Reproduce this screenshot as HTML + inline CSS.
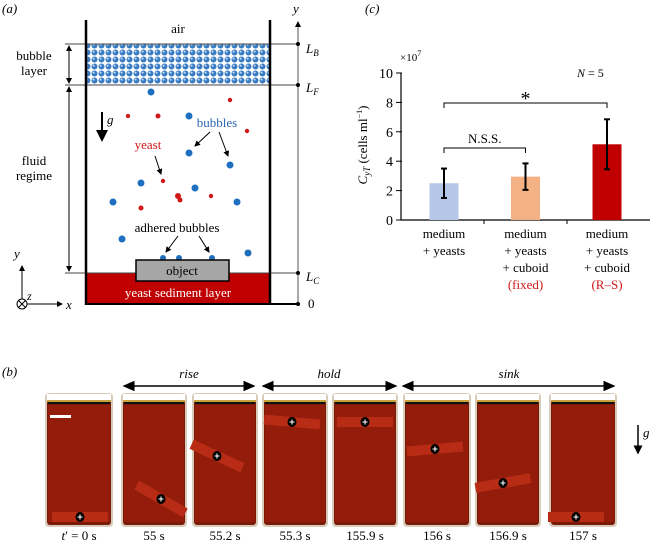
<!DOCTYPE html>
<html><head><meta charset="utf-8"><style>
body{margin:0;background:#fff;overflow:hidden}
svg{display:block;font-family:"Liberation Serif",serif}
</style></head><body>
<svg width="652" height="543" viewBox="0 0 652 543">
<defs>
<pattern id="bub" width="7" height="7" patternUnits="userSpaceOnUse">
<rect width="7" height="7" fill="#fff"/><circle cx="3.5" cy="3.5" r="3" fill="#3a7cc4"/><circle cx="2.6" cy="2.6" r="1" fill="#cfe0f4"/>
</pattern>
<marker id="ah" markerWidth="8" markerHeight="8" refX="7" refY="4" orient="auto-start-reverse"><path d="M0,0.5 L8,4 L0,7.5 z" fill="#000"/></marker>
<marker id="ah2" markerWidth="6" markerHeight="6" refX="5" refY="3" orient="auto-start-reverse"><path d="M0,0 L6,3 L0,6 z" fill="#000"/></marker>
</defs>

<!-- panel a -->
<g>
<text x="2" y="13" font-size="13" font-style="italic">(a)</text>
<text x="178" y="33" font-size="13" text-anchor="middle">air</text>
<rect x="87" y="44" width="182" height="41" fill="url(#bub)"/>
<rect x="87" y="273" width="182" height="31" fill="#c00000"/>
<line x1="65" y1="44" x2="298" y2="44" stroke="#444" stroke-width="1"/>
<line x1="65" y1="85" x2="298" y2="85" stroke="#444" stroke-width="1"/>
<line x1="65" y1="273" x2="298" y2="273" stroke="#444" stroke-width="1"/>
<line x1="86" y1="20" x2="86" y2="305" stroke="#000" stroke-width="2.5"/>
<line x1="270" y1="20" x2="270" y2="305" stroke="#000" stroke-width="2.5"/>
<line x1="85" y1="304" x2="298" y2="304" stroke="#000" stroke-width="2"/>
<line x1="298" y1="304" x2="298" y2="22" stroke="#555" stroke-width="1" marker-end="url(#ah2)"/>
<text x="293" y="13" font-size="13" font-style="italic">y</text>
<g fill="#000"><circle cx="298" cy="44" r="2"/><circle cx="298" cy="85" r="2"/><circle cx="298" cy="273" r="2"/><circle cx="298" cy="304" r="2"/></g>
<text x="306" y="53" font-size="13" font-style="italic">L<tspan font-size="9" dy="3">B</tspan></text>
<text x="306" y="92" font-size="13" font-style="italic">L<tspan font-size="9" dy="3">F</tspan></text>
<text x="306" y="281" font-size="13" font-style="italic">L<tspan font-size="9" dy="3">C</tspan></text>
<text x="308" y="308" font-size="13">0</text>
<line x1="69" y1="46" x2="69" y2="83" stroke="#000" marker-start="url(#ah2)" marker-end="url(#ah2)"/>
<line x1="69" y1="87" x2="69" y2="271" stroke="#000" marker-start="url(#ah2)" marker-end="url(#ah2)"/>
<text x="34" y="60" font-size="13" text-anchor="middle">bubble</text>
<text x="34" y="75" font-size="13" text-anchor="middle">layer</text>
<text x="34" y="165" font-size="13" text-anchor="middle">fluid</text>
<text x="34" y="180" font-size="13" text-anchor="middle">regime</text>
<line x1="102" y1="112" x2="102" y2="140" stroke="#000" stroke-width="2" marker-end="url(#ah2)"/>
<text x="107" y="124" font-size="13" font-style="italic">g</text>
<g fill="#1f6fbf">
<circle cx="151" cy="92" r="3.5"/><circle cx="189" cy="116" r="3.5"/><circle cx="189" cy="153" r="3.5"/><circle cx="230" cy="165" r="3.5"/><circle cx="141" cy="183" r="3.5"/><circle cx="195" cy="188" r="3.5"/><circle cx="113" cy="202" r="3.5"/><circle cx="237" cy="202" r="3.5"/><circle cx="122" cy="239" r="3.5"/><circle cx="248" cy="253" r="3.5"/><circle cx="163" cy="258" r="3"/><circle cx="179" cy="258" r="3"/><circle cx="212" cy="258" r="3"/>
</g>
<g fill="#d01818">
<circle cx="128" cy="116" r="2.2"/><circle cx="158" cy="116" r="2.5"/><circle cx="230" cy="100" r="2.2"/><circle cx="247" cy="131" r="2.2"/><circle cx="163" cy="181" r="2.2"/><circle cx="178" cy="196" r="3"/><circle cx="180" cy="200" r="2.5"/><circle cx="211" cy="196" r="2.2"/><circle cx="141" cy="208" r="2.5"/>
</g>
<text x="217" y="127" font-size="13" fill="#2c66b3" text-anchor="middle">bubbles</text>
<text x="148" y="149" font-size="13" fill="#d01818" text-anchor="middle">yeast</text>
<g stroke="#000" marker-end="url(#ah2)">
<line x1="210" y1="132" x2="195" y2="146"/><line x1="219" y1="132" x2="228" y2="156"/>
<line x1="155" y1="156" x2="161" y2="174"/>
<line x1="178" y1="236" x2="166" y2="252"/><line x1="199" y1="236" x2="209" y2="252"/>
</g>
<text x="177" y="232" font-size="13" text-anchor="middle">adhered bubbles</text>
<rect x="136" y="260" width="93" height="21" fill="#a6a6a6" stroke="#000" stroke-width="1.5"/>
<text x="182" y="275" font-size="13" text-anchor="middle">object</text>
<text x="178" y="297" font-size="13" fill="#fff" text-anchor="middle">yeast sediment layer</text>
<line x1="22" y1="304" x2="22" y2="266" stroke="#000" marker-end="url(#ah2)"/>
<line x1="22" y1="304" x2="62" y2="304" stroke="#000" marker-end="url(#ah2)"/>
<circle cx="22" cy="304" r="5" fill="#fff" stroke="#000"/>
<path d="M18.5,300.5 L25.5,307.5 M25.5,300.5 L18.5,307.5" stroke="#000"/>
<text x="14" y="258" font-size="13" font-style="italic">y</text>
<text x="27" y="300" font-size="12" font-style="italic">z</text>
<text x="66" y="309" font-size="13" font-style="italic">x</text>
</g>

<!-- panel c -->
<g>
<text x="365" y="13" font-size="13" font-style="italic">(c)</text>
<text x="400" y="61" font-size="11">×10<tspan font-size="8" dy="-5">7</tspan></text>
<text x="577" y="77" font-size="12"><tspan font-style="italic">N</tspan> = 5</text>
<g id="chart"></g>
<text transform="translate(367,145) rotate(-90)" font-size="13" text-anchor="middle"><tspan font-style="italic">C</tspan><tspan font-style="italic" font-size="9" dy="3">yT</tspan><tspan dy="-3"> (cells ml</tspan><tspan font-size="8" dy="-5">−1</tspan><tspan dy="5">)</tspan></text>
</g>

<!-- panel b -->
<g>
<text x="2" y="376" font-size="13" font-style="italic">(b)</text>
<g id="photos"></g>
<line x1="124" y1="386" x2="254" y2="386" stroke="#000" stroke-width="1.5" marker-start="url(#ah)" marker-end="url(#ah)"/>
<line x1="263" y1="386" x2="396" y2="386" stroke="#000" stroke-width="1.5" marker-start="url(#ah)" marker-end="url(#ah)"/>
<line x1="403" y1="386" x2="614" y2="386" stroke="#000" stroke-width="1.5" marker-start="url(#ah)" marker-end="url(#ah)"/>
<text x="189" y="378" font-size="13" font-style="italic" text-anchor="middle">rise</text>
<text x="329" y="378" font-size="13" font-style="italic" text-anchor="middle">hold</text>
<text x="509" y="378" font-size="13" font-style="italic" text-anchor="middle">sink</text>
<line x1="638" y1="425" x2="638" y2="453" stroke="#000" stroke-width="1.5" marker-end="url(#ah2)"/>
<text x="643" y="437" font-size="13" font-style="italic">g</text>
</g>
</svg>
<script>
const NS="http://www.w3.org/2000/svg";
function mk(t,a,p){const e=document.createElementNS(NS,t);for(const k in a)e.setAttribute(k,a[k]);p.appendChild(e);return e;}
// chart data
const categories=[["medium","+ yeasts"],["medium","+ yeasts","+ cuboid","(fixed)"],["medium","+ yeasts","+ cuboid","(R–S)"]];
const values=[2.5,2.95,5.15];
const errLow=[1.5,2.05,3.45];
const errHigh=[3.5,3.85,6.85];
const colors=["#b4c7e7","#f4b183","#c00000"];
const yTicks=[0,2,4,6,8,10];
const chart=document.getElementById('chart');
const x0=401,x1=650,yb=220,yt=73,ymax=10;
const ys=v=>yb-(yb-yt)*v/ymax;
const band=(x1-x0)/categories.length;
const xc=i=>x0+band*(i+0.5)+ (i-1)*-1.5;
mk('line',{x1:x0,y1:yt,x2:x0,y2:yb,stroke:'#000','stroke-width':1.2},chart);
mk('line',{x1:x0,y1:yb,x2:x1,y2:yb,stroke:'#000','stroke-width':1.2},chart);
yTicks.forEach(t=>{
 const l=mk('line',{x1:x0-5,y1:ys(t),x2:x0+1,y2:ys(t),stroke:'#000'},chart);
 
 
 const tx=mk('text',{x:x0-8,y:ys(t)+5,'font-size':14,'text-anchor':'end'},chart);tx.textContent=t;
 
 
});
for(let i=1;i<categories.length;i++){mk('line',{x1:x0+band*i,y1:yb,x2:x0+band*i,y2:yb+4,stroke:'#000'},chart);}
values.forEach((v,i)=>{
 const cx=xc(i);
 const r=mk('rect',{x:cx-14.5,y:ys(v),width:29,height:yb-ys(v),fill:colors[i]},chart);
 
 
 const g=mk('g',{stroke:'#000','stroke-width':2},chart);
 
 
 mk('line',{x1:cx,y1:ys(errLow[i]),x2:cx,y2:ys(errHigh[i])},g);
 mk('line',{x1:cx-3,y1:ys(errLow[i]),x2:cx+3,y2:ys(errLow[i])},g);
 mk('line',{x1:cx-3,y1:ys(errHigh[i]),x2:cx+3,y2:ys(errHigh[i])},g);
 categories[i].forEach((s,j)=>{
  const t=mk('text',{x:cx,y:238+j*17,'font-size':13,'text-anchor':'middle',fill:s.startsWith('(')?'#d01818':'#000'},chart);
  t.textContent=s;
  
  
 });
});
function bracket(a,b,y,label,fs,dy){
 const p=mk('path',{d:`M${xc(a)},${y+5}V${y}H${xc(b)}V${y+5}`,fill:'none',stroke:'#000'},chart);
 
 
 const t=mk('text',{x:(xc(a)+xc(b))/2,y:y-dy,'font-size':fs,'text-anchor':'middle'},chart);t.textContent=label;
 
 
}
bracket(0,1,148,'N.S.S.',13,5);
bracket(0,2,103,'*',20,-2);
// photos
const frames=[[45,113,"t′ = 0 s",80,517,0],[121,187,"55 s",161,499,30],[192,258,"55.2 s",217,456,25],[262,328,"55.3 s",292,422,5],[332,398,"155.9 s",365,422,0],[403,471,"156 s",435,449,-5],[475,541,"156.9 s",503,483,-10],[549,617,"157 s",576,517,0]];
const ph=document.getElementById('photos');
frames.forEach((f,i)=>{
 const [a,b,lab,ox,oy,rot]=f;
 const g=mk('g',{},ph);
 
 
 mk('rect',{x:a,y:393,width:b-a,height:134,rx:4,fill:'#d8ccb8'},g);
 mk('rect',{x:a+2,y:395,width:b-a-4,height:130,rx:3,fill:'#7a1a08'},g);
 mk('rect',{x:a+3,y:405,width:b-a-6,height:117,fill:'#931c0b'},g);
 mk('rect',{x:a+2,y:394,width:b-a-4,height:7,fill:'#fff'},g);
 mk('rect',{x:a+2,y:400,width:b-a-4,height:2,fill:'#c8a23a'},g);
 mk('rect',{x:a+3,y:402,width:b-a-6,height:2,fill:'#111'},g);
 mk('rect',{x:ox-28,y:oy-5,width:56,height:10,fill:'#b82c15',transform:`rotate(${rot} ${ox} ${oy})`},g);
 mk('ellipse',{cx:ox,cy:oy,rx:4.5,ry:5,fill:'#000'},g);
 mk('path',{d:`M${ox-2.5},${oy}H${ox+2.5}M${ox},${oy-2.5}V${oy+2.5}`,stroke:'#fff','stroke-width':1.1},g);
 const t=mk('text',{x:(a+b)/2,y:540,'font-size':13,'text-anchor':'middle'},g);
 if(i===0){t.innerHTML='<tspan font-style="italic">t</tspan>′ = 0 s';}else t.textContent=lab;
 
 
});
mk('rect',{x:50,y:415,width:21,height:3,fill:'#fff'},ph);
</script>
</body></html>
